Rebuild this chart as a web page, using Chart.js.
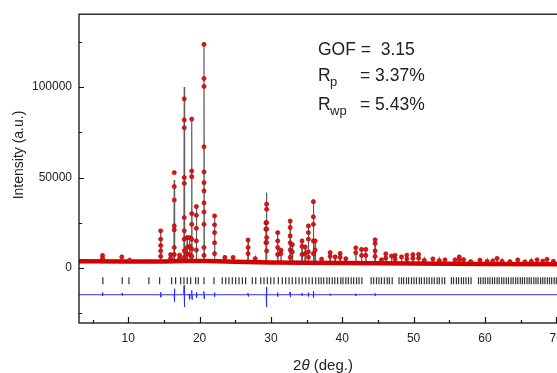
<!DOCTYPE html>
<html>
<head>
<meta charset="utf-8">
<script src="https://cdn.jsdelivr.net/npm/chart.js@4.4.0/dist/chart.umd.min.js"></script>
<style>
  html, body { margin: 0; padding: 0; background: #fff; overflow: hidden; }
  #wrap { width: 557px; height: 373px; overflow: hidden; }
</style>
</head>
<body>
<div id="wrap"><canvas id="chart" width="575" height="373"></canvas></div>
<script>
// axis ticks (labels only on the major ones)
const xTicks = [5, 10, 15, 20, 25, 30, 35, 40, 45, 50, 55, 60, 65, 70];
const yTicks = [-25000, 0, 25000, 50000, 75000, 100000, 125000];

// background under the observed pattern (2theta, counts)
const bgX = [3.1, 10, 15, 18, 21, 25, 30, 40, 50, 60, 71.5];
const bgY = [3800, 3700, 3700, 4000, 4000, 3500, 3100, 2800, 2500, 2300, 2200];

// calculated profile: peak positions and calc heights
const peakPos = [6.4, 9.1, 10.2, 14.55, 15.95, 16.45, 17.2, 17.85, 18.25, 18.6, 18.9, 19.55, 20.62,
  22.1, 23.55, 24.7, 26.8, 27.8, 29.3, 29.4, 30.95, 31.4, 32.7, 33.0, 34.36, 34.8, 35.25, 35.95,
  36.2, 37.1, 38.3, 39.0, 39.7, 40.5, 41.9, 42.7, 43.3, 44.6, 45.5, 46.1, 46.9, 47.4, 48.3, 49.05,
  49.9, 50.7, 51.5, 52.7, 53.6, 54.4, 55.8, 56.4, 57.0, 58.0, 59.3, 60.3, 61.1, 61.7, 62.4, 63.5,
  64.6, 65.6, 66.5, 67.3, 68.1, 68.7, 69.6];
const peakCalc = [7000, 6200, 4300, 21000, 7500, 48700, 7200, 100000, 17000, 17000, 82500, 34000, 124000,
  29500, 6000, 6000, 16000, 5200, 26000, 41700, 20000, 10000, 26500, 13000, 15500, 12000, 23500, 38000,
  15000, 5000, 8800, 6200, 8300, 5200, 11500, 10500, 10500, 16000, 4600, 8000, 6800, 7200, 6300, 7300,
  7600, 7700, 4300, 5200, 4300, 4700, 4700, 6300, 4800, 3700, 4500, 3900, 4100, 5500, 3900, 3700,
  4600, 3600, 3900, 4700, 4000, 5000, 3900];

// observed points visible on each peak
const obsDots = [
  [7000, 5500], [6200], [4300], [20600, 16000, 12500, 9500, 6500], [7500, 5500],
  [52700, 45000, 37600, 23300, 21100, 11400, 7500], [7200, 5500],
  [93500, 81800, 77500, 50000, 46800, 27900, 20600, 16000, 9500, 6000],
  [16900, 11400, 8000], [16900, 12000, 7500],
  [82300, 53600, 50500, 30100, 24200, 16000, 10500, 6500],
  [34000, 29200, 22000, 15000, 10000],
  [123500, 104700, 100300, 67000, 53100, 47200, 42600, 36000, 31000, 24200, 11400, 7000],
  [28800, 23900, 19600, 14000, 8000], [5900], [5900], [15500, 11400, 8000], [5200],
  [25100, 21500, 14100], [35300, 32500, 25100, 21500, 16900, 14100, 9500],
  [19600, 15000, 11400, 7500], [9900, 8000], [26000, 22400, 17800, 14000, 10000, 6000], [13000, 9000],
  [15000, 12000, 7500], [11700, 8000], [23300, 19600, 16000, 9000, 6000],
  [36700, 28300, 24200, 15000, 8000], [15000, 10000], [5000], [8600, 6500], [6200], [8100, 6000],
  [5200], [11200, 8500], [10300, 7000], [10300, 7000], [15600, 13600, 9500, 6500], [4600],
  [7900, 5500], [6700], [7100, 5000], [6200], [7200, 5000], [7500, 5500], [7600, 5500], [4300],
  [5100], [4200], [4600], [4600], [6200, 4500], [4700], [3600], [4400], [3800], [4000], [5400],
  [3800], [3600], [4500], [3500], [3800], [4600], [3900], [4900], [3800]
];

// Bragg reflection positions
const braggPos = [6.45, 9.16, 10.1, 12.9, 14.4, 16.08, 16.64, 17.35, 17.81, 18.27, 18.75, 19.45, 19.82,
  20.62, 22.02, 23.18, 23.66, 24.12, 24.59, 25.06, 25.53, 26.0, 26.45, 27.39, 27.87, 28.57, 29.03,
  29.5, 29.97, 30.43, 31.04, 31.6, 32.08, 32.54, 33.0, 33.48, 33.94, 34.4, 34.88, 35.34, 35.8, 36.28,
  36.7, 37.05, 37.4, 37.85, 38.2, 38.6, 38.95, 39.35, 39.8, 40.1, 40.5, 40.85, 41.25, 41.6, 42.0,
  42.35, 42.75, 44.05, 44.4, 44.8, 45.15, 45.5, 45.9, 46.3, 46.6, 47.0, 47.95, 48.3, 48.6, 49.0,
  49.3, 49.7, 50.05, 50.4, 50.8, 51.1, 51.5, 51.85, 52.2, 52.55, 52.9, 53.3, 53.6, 54.0, 54.35,
  55.3, 55.6, 56.0, 56.3, 56.7, 57.0, 57.35, 57.7, 58.05, 59.1, 59.4, 59.75, 60.05, 60.4, 60.7,
  61.05, 61.35, 61.7, 62.0, 62.35, 62.65, 63.0, 63.3, 63.65, 63.95, 64.3, 64.6, 64.95, 65.25,
  65.55, 65.9, 66.2, 66.5, 66.85, 67.15, 67.45, 67.8, 68.1, 68.4, 68.75, 69.05, 69.35, 69.7,
  70.0, 70.3, 70.65, 71.0];
const braggLevel = -7000;

// difference curve (obs - calc), drawn shifted down: spikes at the peaks
const diffBase = -14700;
const diffPos = [6.4, 9.15, 14.55, 16.48, 17.85, 18.6, 18.92, 19.58, 20.62, 22.1, 26.8, 29.38,
  30.95, 32.7, 34.36, 35.26, 35.96, 38.3, 41.9, 44.6];
const diffUp = [-13400, -13900, -13300, -11400, -9600, -14200, -12300, -13300, -12900, -13600, -13700, -10400,
  -13500, -13200, -13800, -13600, -12700, -14100, -14100, -13900];
const diffDown = [-15400, -15200, -16000, -18600, -21500, -17200, -17400, -16200, -16900, -15800, -15600, -21400,
  -15600, -16000, -15300, -15700, -16300, -15100, -15200, -15400];

const bgAt = p => {
  let v = bgY[0];
  for (let i = 0; i < bgX.length; i++) if (bgX[i] <= p) v = bgY[i];
  return v;
};

let calcPts = [{ x: bgX[0], y: bgY[0] }];
peakPos.forEach((p, i) => {
  const b = bgAt(p);
  calcPts.push({ x: p - 0.05, y: b }, { x: p, y: peakCalc[i] }, { x: p + 0.05, y: b });
});
calcPts.push({ x: bgX[bgX.length - 1], y: bgY[bgY.length - 1] });

let obsPts = [];
peakPos.forEach((p, i) => obsDots[i].forEach(v => obsPts.push({ x: p, y: v })));

const bgPts = bgX.map((x, i) => ({ x: x, y: bgY[i] }));
const braggPts = braggPos.map(x => ({ x: x, y: braggLevel }));

let diffPts = [{ x: 3.1, y: diffBase }];
diffPos.forEach((p, i) => {
  diffPts.push({ x: p - 0.06, y: diffBase }, { x: p - 0.02, y: diffUp[i] },
    { x: p + 0.02, y: diffDown[i] }, { x: p + 0.06, y: diffBase });
});
diffPts.push({ x: 71.5, y: diffBase });

const FONT = '"Liberation Sans", Arial, sans-serif';

// frame, inward ticks, titles and the fit numbers
const extras = {
  id: 'extras',
  afterDraw(chart) {
    const ctx = chart.ctx, a = chart.chartArea;
    const xs = chart.scales.x, ys = chart.scales.y;
    ctx.save();
    ctx.strokeStyle = '#111';
    ctx.lineWidth = 1.3;
    ctx.strokeRect(a.left, a.top, a.right - a.left, a.bottom - a.top);
    ctx.beginPath();
    xTicks.forEach(v => {
      const px = Math.round(xs.getPixelForValue(v)) + 0.5;
      const len = v % 10 === 0 ? 6 : 3;
      ctx.moveTo(px, a.bottom);
      ctx.lineTo(px, a.bottom - len);
    });
    yTicks.forEach(v => {
      const py = Math.round(ys.getPixelForValue(v)) + 0.5;
      const len = v % 50000 === 0 ? 5 : 3;
      ctx.moveTo(a.left, py);
      ctx.lineTo(a.left + len, py);
    });
    ctx.lineWidth = 1.2;
    ctx.stroke();

    ctx.fillStyle = '#222';
    // x title: 2θ (deg.)
    ctx.textBaseline = 'middle';
    const cx = (a.left + a.right) / 2, ty = 366;
    ctx.font = '15px ' + FONT;
    const w1 = ctx.measureText('2').width;
    const w3 = ctx.measureText(' (deg.)').width;
    ctx.font = 'italic 15px ' + FONT;
    const w2 = ctx.measureText('\u03B8').width;
    const sx = cx - (w1 + w2 + w3) / 2;
    ctx.textAlign = 'left';
    ctx.font = '15px ' + FONT;
    ctx.fillText('2', sx, ty);
    ctx.font = 'italic 15px ' + FONT;
    ctx.fillText('\u03B8', sx + w1, ty);
    ctx.font = '15px ' + FONT;
    ctx.fillText(' (deg.)', sx + w1 + w2, ty);

    // y title
    ctx.save();
    ctx.translate(19, 155);
    ctx.rotate(-Math.PI / 2);
    ctx.textAlign = 'center';
    ctx.font = '14px ' + FONT;
    ctx.fillText('Intensity (a.u.)', 0, 0);
    ctx.restore();

    // refinement numbers
    ctx.textBaseline = 'alphabetic';
    ctx.textAlign = 'left';
    ctx.font = '17.5px ' + FONT;
    ctx.fillText('GOF =  3.15', 318, 55);
    ctx.fillText('R', 318, 81);
    ctx.fillText('= 3.37%', 360, 81);
    ctx.fillText('R', 318, 110);
    ctx.fillText('= 5.43%', 360, 110);
    ctx.font = '13px ' + FONT;
    ctx.fillText('p', 330, 86);
    ctx.fillText('wp', 330, 115);
    ctx.restore();
  }
};

new Chart(document.getElementById('chart'), {
  type: 'scatter',
  data: {
    datasets: [
      {
        label: 'Obs',
        data: obsPts,
        order: 1,
        showLine: false,
        pointRadius: 2.1,
        pointBackgroundColor: '#e01414',
        pointBorderColor: '#a80000',
        pointBorderWidth: 0.6
      },
      {
        label: 'Obs background',
        data: bgPts,
        order: 2,
        showLine: true,
        borderColor: '#d40000',
        borderWidth: 4.5,
        pointRadius: 0
      },
      {
        label: 'Calc',
        data: calcPts,
        order: 3,
        showLine: true,
        borderColor: 'rgba(40,40,40,0.75)',
        borderWidth: 1.2,
        pointRadius: 0
      },
      {
        label: 'Bragg',
        data: braggPts,
        order: 4,
        showLine: false,
        pointStyle: 'line',
        rotation: 90,
        pointRadius: 3.5,
        borderColor: '#333',
        pointBorderColor: '#333',
        pointBorderWidth: 1.2
      },
      {
        label: 'Diff',
        data: diffPts,
        order: 5,
        showLine: true,
        borderColor: '#2b2bff',
        borderWidth: 1,
        pointRadius: 0
      }
    ]
  },
  options: {
    responsive: false,
    animation: false,
    layout: { padding: { top: 13, right: 8, left: 0, bottom: 0 } },
    plugins: { legend: { display: false }, tooltip: { enabled: false } },
    scales: {
      x: {
        type: 'linear',
        min: 3.1,
        max: 71.5,
        grid: { display: false, drawTicks: false },
        border: { display: false },
        afterFit: s => { s.height = 50; },
        afterBuildTicks: s => { s.ticks = xTicks.map(v => ({ value: v })); },
        ticks: {
          autoSkip: false,
          maxRotation: 0,
          padding: 8,
          color: '#222',
          font: { family: FONT, size: 12 },
          callback: v => (v % 10 === 0 ? v : '')
        }
      },
      y: {
        type: 'linear',
        min: -30300,
        max: 140200,
        grid: { display: false, drawTicks: false },
        border: { display: false },
        afterFit: s => { s.width = 79; },
        afterBuildTicks: s => { s.ticks = yTicks.map(v => ({ value: v })); },
        ticks: {
          autoSkip: false,
          padding: 7,
          color: '#222',
          font: { family: FONT, size: 12 },
          callback: v => (v % 50000 === 0 ? v : '')
        }
      }
    }
  },
  plugins: [extras]
});
</script>
</body>
</html>
